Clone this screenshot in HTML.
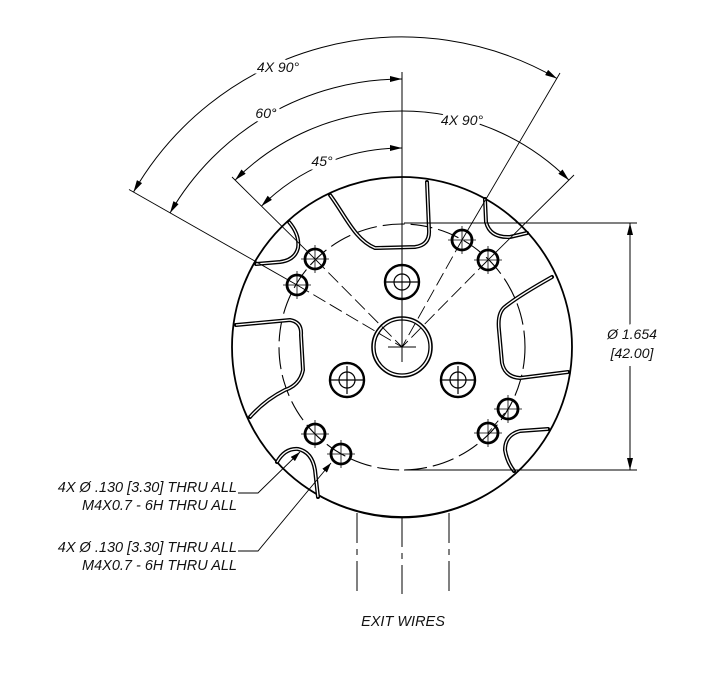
<!DOCTYPE html>
<html><head><meta charset="utf-8"><style>
body{margin:0;background:#fff}
svg{display:block}
text{font-family:"Liberation Sans",sans-serif;font-style:italic;font-size:14px;fill:#111}
.l{font-size:14.5px}
</style></head><body>
<svg width="720" height="686" viewBox="0 0 720 686" xmlns="http://www.w3.org/2000/svg">
<defs>
<marker id="ar" viewBox="0 0 12 6" refX="12" refY="3" markerWidth="13" markerHeight="6" markerUnits="userSpaceOnUse" orient="auto-start-reverse"><path d="M0,0 L12,3 L0,6 z" fill="#000"/></marker>
<marker id="al" viewBox="0 0 10 6" refX="10" refY="3" markerWidth="10" markerHeight="6" markerUnits="userSpaceOnUse" orient="auto"><path d="M0,0 L10,3 L0,6 z" fill="#000"/></marker>
</defs>
<g fill="none" stroke="#000">
<circle cx="402" cy="347" r="170" stroke-width="1.8"/>
<path d="M300,483 A167,167 0 0 0 504,483" stroke-width="1.2"/>
<circle cx="402" cy="347" r="123" stroke-width="1.1" stroke-dasharray="22,6"/>
<g stroke-width="4" stroke-linecap="round" stroke-linejoin="round">
<path d="M330,195 C345,215 355,240 375,248 L415,247 Q430,245 429,230 L427,182"/>
<path d="M485,199 L486,222 Q490,238 510,237 L527,233"/>
<path d="M289,222 Q300,235 298,248 Q295,260 280,262 L256,264"/>
<path d="M236,325 L290,320 Q302,322 301,335 L303,370 Q300,385 285,390 Q265,400 250,417"/>
<path d="M552,277 Q520,295 506,306 Q497,312 499,330 L502,363 Q505,377 520,378 L568,372"/>
<path d="M548,429 L520,431 Q505,435 505,450 Q507,462 514,471"/>
<path d="M277,462 Q285,448 298,449 Q312,452 315,470 L318,497"/>
</g>
<g stroke-width="1.3" stroke="#fff">
<path d="M330,195 C345,215 355,240 375,248 L415,247 Q430,245 429,230 L427,182"/>
<path d="M485,199 L486,222 Q490,238 510,237 L527,233"/>
<path d="M289,222 Q300,235 298,248 Q295,260 280,262 L256,264"/>
<path d="M236,325 L290,320 Q302,322 301,335 L303,370 Q300,385 285,390 Q265,400 250,417"/>
<path d="M552,277 Q520,295 506,306 Q497,312 499,330 L502,363 Q505,377 520,378 L568,372"/>
<path d="M548,429 L520,431 Q505,435 505,450 Q507,462 514,471"/>
<path d="M277,462 Q285,448 298,449 Q312,452 315,470 L318,497"/>
</g>
<circle cx="402" cy="347" r="30" stroke-width="1.6"/>
<circle cx="402" cy="347" r="27" stroke-width="1.3"/>
<path d="M388,347 H416" stroke-width="1"/>
<g stroke-width="2.4">
<circle cx="402" cy="282" r="17"/><circle cx="347" cy="380" r="17"/><circle cx="458" cy="380" r="17"/>
</g>
<g stroke-width="1.2">
<circle cx="402" cy="282" r="8"/><circle cx="347" cy="380" r="8"/><circle cx="458" cy="380" r="8"/>
<path d="M386,282H418 M331,380H363 M442,380H474 M347,366V394 M458,366V394"/>
</g>
<g stroke-width="2.8">
<circle cx="315" cy="259" r="10"/><circle cx="297" cy="285" r="10"/>
<circle cx="462" cy="240" r="10"/><circle cx="488" cy="260" r="10"/>
<circle cx="508" cy="409" r="10"/><circle cx="488" cy="433" r="10"/>
<circle cx="315" cy="434" r="10"/><circle cx="341" cy="454" r="10"/>
</g>
<g stroke-width="0.8">
<path d="M301,259H329M315,245V273 M283,285H311M297,271V299 M448,240H476M462,226V254 M474,260H502M488,246V274 M494,409H522M508,395V423 M474,433H502M488,419V447 M301,434H329M315,420V448 M327,454H355M341,440V468"/>
</g>
<path d="M402,72 V362" stroke-width="1"/>
<g stroke-width="0.9">
<path d="M129,189.5 L297,285"/><path d="M297,285 L402,347" stroke-dasharray="14,5"/>
<path d="M232,177 L315,259"/><path d="M315,259 L402,347" stroke-dasharray="14,5"/>
<path d="M560,73 L462,240"/><path d="M462,240 L402,347" stroke-dasharray="14,5"/>
<path d="M574,175 L488,260"/><path d="M488,260 L402,347" stroke-dasharray="14,5"/>
<path d="M488,433 L508,409" stroke-dasharray="6,4"/>
</g>
<g stroke-width="1">
<path d="M133.5,192 A310,310 0 0 1 557,78.5" marker-start="url(#ar)" marker-end="url(#ar)"/>
<path d="M170,213 A268,268 0 0 1 402,79" marker-start="url(#ar)" marker-end="url(#ar)"/>
<path d="M261.3,206.3 A199,199 0 0 1 402,148" marker-start="url(#ar)" marker-end="url(#ar)"/>
<path d="M235.1,180.1 A236,236 0 0 1 568.9,180.1" marker-start="url(#ar)" marker-end="url(#ar)"/>
</g>
<g stroke-width="1">
<path d="M404,223 H637 M404,470 H637"/>
<path d="M630,325 V223" marker-end="url(#ar)"/>
<path d="M630,366 V470" marker-end="url(#ar)"/>
</g>
<g stroke-width="0.9">
<path d="M238,493 H258 L300,452" marker-end="url(#al)"/>
<path d="M238,551 H258 L331,463" marker-end="url(#al)"/>
</g>
<g stroke-width="1" stroke-dasharray="30,6,6,6">
<path d="M357,513 V594"/><path d="M402,517 V594"/><path d="M449,513 V594"/>
</g>
</g>
<g stroke="#fff" stroke-width="7" paint-order="stroke">
<text x="278" y="72" text-anchor="middle">4X 90°</text>
<text x="266" y="118" text-anchor="middle">60°</text>
<text x="322" y="166" text-anchor="middle">45°</text>
<text x="462" y="125" text-anchor="middle">4X 90°</text>
<text x="632" y="339" text-anchor="middle">Ø 1.654</text>
<text x="632" y="358" text-anchor="middle">[42.00]</text>
</g>
<text class="l" x="237" y="492" text-anchor="end">4X  Ø  .130 [3.30]  THRU ALL</text>
<text class="l" x="237" y="510" text-anchor="end">M4X0.7 - 6H THRU ALL</text>
<text class="l" x="237" y="552" text-anchor="end">4X  Ø  .130 [3.30]  THRU ALL</text>
<text class="l" x="237" y="570" text-anchor="end">M4X0.7 - 6H THRU ALL</text>
<text class="l" x="403" y="626" text-anchor="middle">EXIT WIRES</text>
</svg>
</body></html>
